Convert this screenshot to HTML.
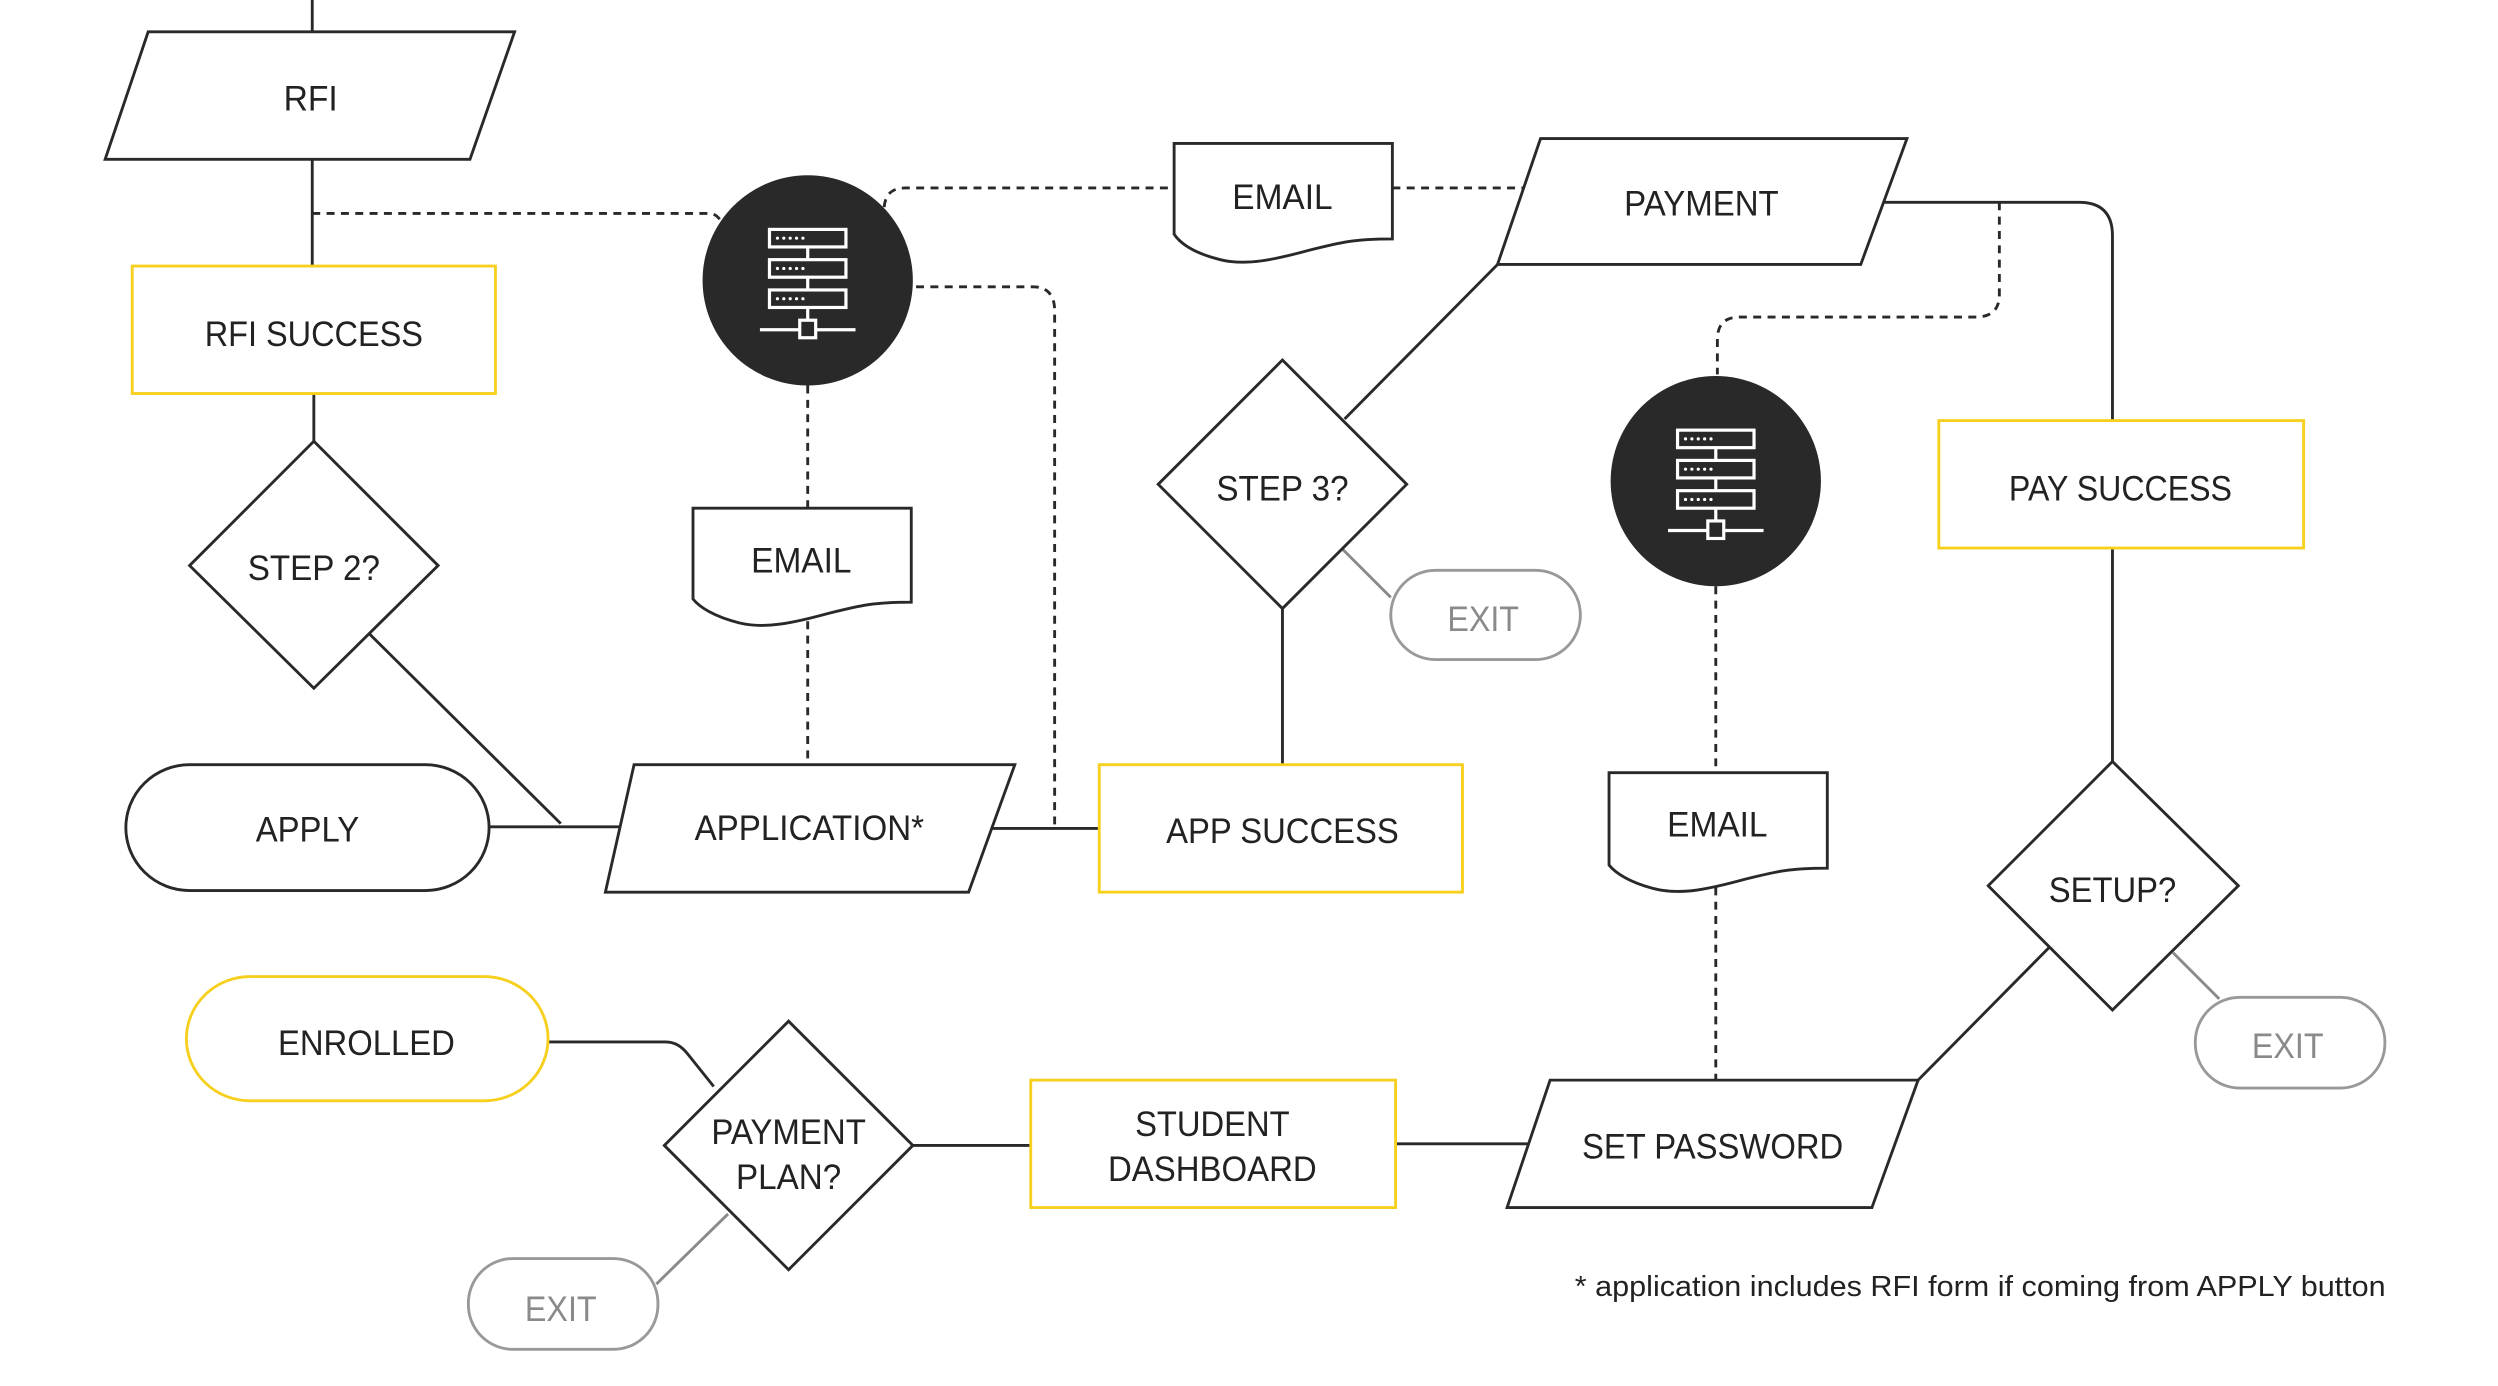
<!DOCTYPE html>
<html><head><meta charset="utf-8"><style>
html,body{margin:0;padding:0;background:#fff;}
svg{display:block;}
text{font-family:"Liberation Sans Narrow","Liberation Sans",sans-serif;font-size:22px;fill:#222;text-anchor:middle;dominant-baseline:central;}
.g{fill:#8a8a8a;}
</style></head><body>
<svg width="2498" height="1386" viewBox="0 0 1568 870" preserveAspectRatio="none" xmlns="http://www.w3.org/2000/svg">
<defs>
<g id="srv" fill="none" stroke="#fff" stroke-width="2">
<rect x="-24" y="-32" width="48" height="11"/>
<rect x="-24" y="-13" width="48" height="11"/>
<rect x="-24" y="6" width="48" height="11"/>
<line x1="0" y1="-21" x2="0" y2="-13"/><line x1="0" y1="-2" x2="0" y2="6"/><line x1="0" y1="17" x2="0" y2="25"/>
<line x1="-30" y1="31" x2="30" y2="31"/>
<rect x="-5" y="25" width="10" height="11" fill="#292929"/>
<g fill="#fff" stroke="none"><circle cx="-19" cy="-26.5" r="1"/><circle cx="-15" cy="-26.5" r="1"/><circle cx="-11" cy="-26.5" r="1"/><circle cx="-7" cy="-26.5" r="1"/><circle cx="-3" cy="-26.5" r="1"/>
<circle cx="-19" cy="-7.5" r="1"/><circle cx="-15" cy="-7.5" r="1"/><circle cx="-11" cy="-7.5" r="1"/><circle cx="-7" cy="-7.5" r="1"/><circle cx="-3" cy="-7.5" r="1"/>
<circle cx="-19" cy="11.5" r="1"/><circle cx="-15" cy="11.5" r="1"/><circle cx="-11" cy="11.5" r="1"/><circle cx="-7" cy="11.5" r="1"/><circle cx="-3" cy="11.5" r="1"/></g>
</g>
</defs>
<g fill="none" stroke="#292929" stroke-width="1.8">
<line x1="196" y1="0" x2="196" y2="20"/>
<line x1="196" y1="100" x2="196" y2="167"/>
<line x1="197" y1="247" x2="197" y2="277"/>
<polyline points="232,398 352,517"/>
<line x1="307" y1="519" x2="390" y2="519"/>
<line x1="623" y1="520" x2="690" y2="520"/>
<line x1="940" y1="166" x2="844" y2="263"/>
<line x1="805" y1="382" x2="805" y2="480"/>
<path d="M1183,127 H1305 Q1326,127 1326,148 V264"/>
<line x1="1326" y1="344" x2="1326" y2="478"/>
<line x1="1286" y1="595" x2="1204" y2="678"/>
<line x1="876" y1="718" x2="960" y2="718"/>
<line x1="573" y1="719" x2="647" y2="719"/>
<path d="M344,654 H418 Q426,654 432,662 L448,682"/>
<g stroke-dasharray="5,4">
<path d="M196,134 H445 Q452,134 455,145"/>
<path d="M555,130 Q556,118 568,118 H737"/>
<line x1="874" y1="118" x2="957" y2="118"/>
<line x1="507" y1="242" x2="507" y2="319"/>
<line x1="507" y1="390" x2="507" y2="480"/>
<path d="M575,180 H648 Q662,180 662,195 V518"/>
<path d="M1255,127 V185 Q1255,199 1240,199 H1092 Q1078,199 1078,213 V235"/>
<line x1="1077" y1="368" x2="1077" y2="485"/>
<line x1="1077" y1="557" x2="1077" y2="678"/>
</g>
</g>
<g fill="none" stroke="#8a8a8a" stroke-width="1.8">
<polyline points="843,345 873,375"/>
<polyline points="1364,598 1393,627"/>
<polyline points="457,762 412,806"/>
</g>
<g fill="#fff" stroke="#292929" stroke-width="1.8">
<polygon points="93,20 323,20 295,100 66,100"/>
<polygon points="119,355 197,277 275,355 197,432"/>
<rect x="79" y="480" width="228" height="79" rx="40"/>
<polygon points="398,480 637,480 608,560 380,560"/>
<polygon points="967,87 1197,87 1168,166 940,166"/>
<polygon points="727,304 805,226 883,304 805,382"/>
<polygon points="1248,556 1326,478 1405,556 1326,634"/>
<polygon points="973,678 1204,678 1175,758 946,758"/>
<polygon points="417,719 495,641 573,719 495,797"/>
<path d="M737,90 H874 V150 C850,150 842,152 822,157 C800,163 782,167 766,163 C750,159 741,153 737,147 Z"/>
<path d="M435,319 H572 V378 C548,378 540,380 520,385 C498,391 480,395 464,391 C448,387 439,381 435,376 Z"/>
<path d="M1010,485 H1147 V545 C1123,545 1115,547 1095,552 C1073,558 1055,562 1039,558 C1023,554 1014,548 1010,543 Z"/>
</g>
<g fill="#fff" stroke="#f7cf1e" stroke-width="1.8">
<rect x="83" y="167" width="228" height="80"/>
<rect x="690" y="480" width="228" height="80"/>
<rect x="1217" y="264" width="229" height="80"/>
<rect x="647" y="678" width="229" height="80"/>
<rect x="117" y="613" width="227" height="78" rx="40"/>
</g>
<g fill="#fff" stroke="#999" stroke-width="1.8">
<rect x="873" y="358" width="119" height="56" rx="28"/>
<rect x="1378" y="626" width="119" height="57" rx="28"/>
<rect x="294" y="790" width="119" height="57" rx="28"/>
</g>
<circle cx="507" cy="176" r="66" fill="#292929"/>
<circle cx="1077" cy="302" r="66" fill="#292929"/>
<use href="#srv" x="507" y="176"/>
<use href="#srv" x="1077" y="302"/>
<text x="195" y="62" textLength="34" lengthAdjust="spacingAndGlyphs">RFI</text>
<text x="197" y="210" textLength="137" lengthAdjust="spacingAndGlyphs">RFI SUCCESS</text>
<text x="197" y="357" textLength="83" lengthAdjust="spacingAndGlyphs">STEP 2?</text>
<text x="193" y="521" textLength="65" lengthAdjust="spacingAndGlyphs">APPLY</text>
<text x="508" y="520" textLength="144" lengthAdjust="spacingAndGlyphs">APPLICATION*</text>
<text x="805" y="522" textLength="146" lengthAdjust="spacingAndGlyphs">APP SUCCESS</text>
<text x="805" y="124" textLength="63" lengthAdjust="spacingAndGlyphs">EMAIL</text>
<text x="503" y="352" textLength="63" lengthAdjust="spacingAndGlyphs">EMAIL</text>
<text x="1078" y="518" textLength="63" lengthAdjust="spacingAndGlyphs">EMAIL</text>
<text x="1068" y="128" textLength="97" lengthAdjust="spacingAndGlyphs">PAYMENT</text>
<text x="805" y="307" textLength="83" lengthAdjust="spacingAndGlyphs">STEP 3?</text>
<text x="1331" y="307" textLength="140" lengthAdjust="spacingAndGlyphs">PAY SUCCESS</text>
<text x="1326" y="559" textLength="80" lengthAdjust="spacingAndGlyphs">SETUP?</text>
<text x="1075" y="720" textLength="164" lengthAdjust="spacingAndGlyphs">SET PASSWORD</text>
<text x="761" y="706" textLength="97" lengthAdjust="spacingAndGlyphs">STUDENT</text>
<text x="761" y="734" textLength="131" lengthAdjust="spacingAndGlyphs">DASHBOARD</text>
<text x="495" y="711" textLength="97" lengthAdjust="spacingAndGlyphs">PAYMENT</text>
<text x="495" y="739" textLength="66" lengthAdjust="spacingAndGlyphs">PLAN?</text>
<text x="230" y="655" textLength="111" lengthAdjust="spacingAndGlyphs">ENROLLED</text>
<text class="g" x="931" y="389" textLength="45" lengthAdjust="spacingAndGlyphs">EXIT</text>
<text class="g" x="1436" y="657" textLength="45" lengthAdjust="spacingAndGlyphs">EXIT</text>
<text class="g" x="352" y="822" textLength="45" lengthAdjust="spacingAndGlyphs">EXIT</text>
<text x="1243" y="808" style="font-size:18px" textLength="509" lengthAdjust="spacingAndGlyphs">* application includes RFI form if coming from APPLY button</text>
</svg>
</body></html>
